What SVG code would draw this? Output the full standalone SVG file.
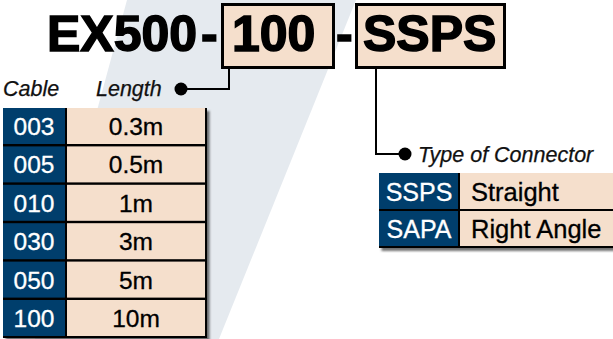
<svg xmlns="http://www.w3.org/2000/svg" width="613" height="339" viewBox="0 0 613 339">
<defs>
<filter id="sh" x="-10%" y="-10%" width="130%" height="130%">
<feDropShadow dx="2.5" dy="3" stdDeviation="1.2" flood-color="#000" flood-opacity="0.55"/>
</filter>
</defs>
<style>
.title{font-family:"Liberation Sans",Arial,sans-serif;font-weight:bold;font-size:50px;fill:#000;stroke:#000;stroke-width:1.5px}
.box{fill:#F5DFCC;stroke:#000;stroke-width:3}
.lbl{font-family:"Liberation Sans",Arial,sans-serif;font-style:italic;font-size:21.5px;fill:#111;stroke:#111;stroke-width:0.25px}
.code{fill:#003E6C}
.val{fill:#F5DFCC}
.ct{font-family:"Liberation Sans",Arial,sans-serif;font-size:24.5px;fill:#fff;text-anchor:middle;stroke:#fff;stroke-width:0.3px}
.vt{font-family:"Liberation Sans",Arial,sans-serif;font-size:24.5px;fill:#000;text-anchor:middle;stroke:#000;stroke-width:0.3px}
.ct2{font-family:"Liberation Sans",Arial,sans-serif;font-size:25px;fill:#fff;text-anchor:middle;stroke:#fff;stroke-width:0.3px}
.vt2{font-family:"Liberation Sans",Arial,sans-serif;font-size:25.5px;fill:#000;stroke:#000;stroke-width:0.3px}
.wire{fill:none;stroke:#000;stroke-width:2}
</style>
<polygon points="127,0 356,0 219,339 35,339" fill="#E5EAEF"/>
<g id="title">
<text class="title" x="47" y="51">EX500</text>
<text class="title" x="201" y="51">-</text>
<text class="title" x="336" y="51">-</text>
</g>
<g id="box-length">
<rect class="box" x="222.5" y="4.5" width="111" height="63"/>
<text class="title" x="232" y="51">100</text>
</g>
<g id="box-connector">
<rect class="box" x="356.5" y="4.5" width="148" height="63"/>
<text class="title" x="363" y="51">SSPS</text>
</g>
<g id="connectors">
<polyline class="wire" points="229,68 229,89 181,89"/>
<circle cx="181" cy="89" r="6.5" fill="#000"/>
<polyline class="wire" points="376,68 376,154 405,154"/>
<circle cx="405" cy="154" r="6.5" fill="#000"/>
</g>
<g id="labels">
<text class="lbl" x="3" y="96">Cable</text>
<text class="lbl" x="96" y="96">Length</text>
<text class="lbl" x="418" y="162">Type of Connector</text>
</g>
<g id="cable-table">
<rect x="3" y="108" width="204" height="230" fill="#000" filter="url(#sh)"/>
<g id="row-003"><rect class="code" x="3" y="108" width="62" height="36"/><rect class="val" x="67" y="108" width="138" height="36"/><text class="ct" x="34" y="135">003</text><text class="vt" x="136" y="135">0.3m</text></g>
<g id="row-005"><rect class="code" x="3" y="146.4" width="62" height="36"/><rect class="val" x="67" y="146.4" width="138" height="36"/><text class="ct" x="34" y="173.4">005</text><text class="vt" x="136" y="173.4">0.5m</text></g>
<g id="row-010"><rect class="code" x="3" y="184.8" width="62" height="36"/><rect class="val" x="67" y="184.8" width="138" height="36"/><text class="ct" x="34" y="211.8">010</text><text class="vt" x="136" y="211.8">1m</text></g>
<g id="row-030"><rect class="code" x="3" y="223.2" width="62" height="36"/><rect class="val" x="67" y="223.2" width="138" height="36"/><text class="ct" x="34" y="250.2">030</text><text class="vt" x="136" y="250.2">3m</text></g>
<g id="row-050"><rect class="code" x="3" y="261.6" width="62" height="36"/><rect class="val" x="67" y="261.6" width="138" height="36"/><text class="ct" x="34" y="288.6">050</text><text class="vt" x="136" y="288.6">5m</text></g>
<g id="row-100"><rect class="code" x="3" y="300" width="62" height="36"/><rect class="val" x="67" y="300" width="138" height="36"/><text class="ct" x="34" y="327">100</text><text class="vt" x="136" y="327">10m</text></g>
</g>
<g id="connector-table">
<rect x="379" y="173" width="234" height="75" fill="#000" filter="url(#sh)"/>
<g id="row-ssps"><rect class="code" x="379" y="173" width="79" height="36"/><rect class="val" x="460" y="173" width="153" height="36"/><text class="ct2" x="419" y="200.5">SSPS</text><text class="vt2" x="471" y="200.5">Straight</text></g>
<g id="row-sapa"><rect class="code" x="379" y="211" width="79" height="35"/><rect class="val" x="460" y="211" width="153" height="35"/><text class="ct2" x="419" y="238">SAPA</text><text class="vt2" x="471" y="238">Right Angle</text></g>
</g>
</svg>
